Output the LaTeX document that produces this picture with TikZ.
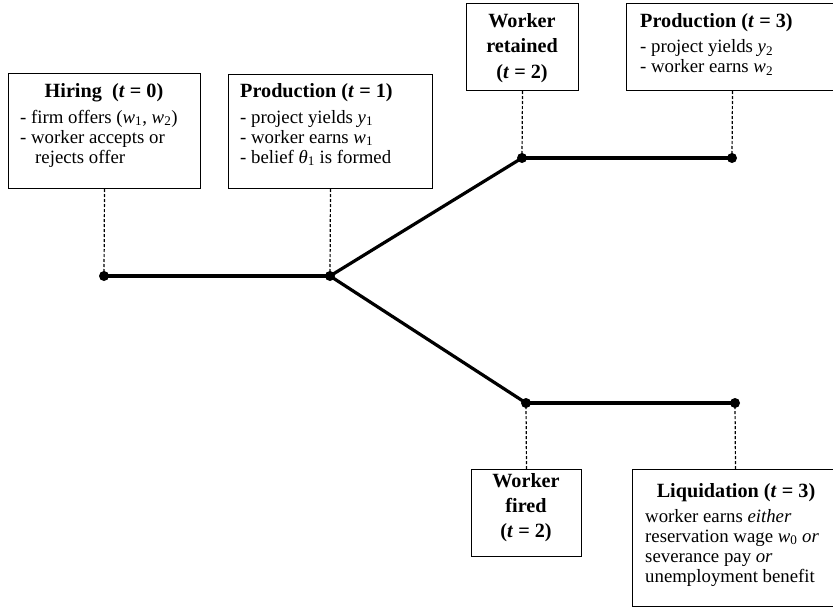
\documentclass[tikz,border=0pt]{standalone}
\usepackage{fontspec}
\setmainfont{Liberation Serif}
\newcommand\tv{\textit{t}}
\newcommand\wsub[2]{\textit{#1}\textsubscript{#2}}
\begin{document}
\begin{tikzpicture}[x=1pt,y=-1pt,
  box/.style={draw, line width=1pt, anchor=north west, inner sep=0},
  ttl/.style={inner sep=0, font=\fontsize{20.2}{25}\selectfont\bfseries, anchor=base},
  ttlw/.style={ttl, anchor=base west},
  ln/.style={inner sep=0, font=\fontsize{18.8}{20}\selectfont, anchor=base west},
  tl/.style={line width=3.2pt},
  dsh/.style={line width=1.2pt, dash pattern=on 3pt off 2pt},
  dot/.style={circle, fill, inner sep=0, minimum size=10pt}]
\useasboundingbox (0,0) rectangle (833,610);
\clip (0,0) rectangle (833,610);
% boxes
\node[box, minimum width=192pt, minimum height=115pt] (hire) at (8,73) {};
\node[box, minimum width=204pt, minimum height=114pt] (prod1) at (228,74) {};
\node[box, minimum width=112pt, minimum height=87pt] (ret) at (466,3) {};
\node[box, minimum width=212pt, minimum height=87pt] (prod3) at (626,3) {};
\node[box, minimum width=110pt, minimum height=87pt] (fired) at (471,469) {};
\node[box, minimum width=206pt, minimum height=137pt] (liq) at (632,469) {};
% event points
\coordinate (A) at (104,276);
\coordinate (B) at (330,276);
\coordinate (C) at (522,158);
\coordinate (D) at (732,158);
\coordinate (E) at (526,403);
\coordinate (F) at (735,403);
% dashed links
\draw[dsh] (hire.south) -- (A);
\draw[dsh] (prod1.south) -- (B);
\draw[dsh] (ret.south) -- (C);
\draw[dsh] (prod3.south) -- (D);
\draw[dsh] (fired.north) -- (E);
\draw[dsh] (liq.north) -- (F);
% timeline
\draw[tl] (A) -- (B);
\draw[tl] (B) -- (C);
\draw[tl] (C) -- (D);
\draw[tl] (B) -- (E);
\draw[tl] (E) -- (F);
\foreach \p in {A,B,C,D,E,F} \node[dot] (d\p) at (\p) {};
% texts
\node[ttl] (hireT) at (104,98) {Hiring\ \ (\tv{} = 0)};
\node[ln] (hire1) at (20,123) {- firm offers (\wsub{w}{1}, \wsub{w}{2})};
\node[ln] (hire2) at (20,143) {- worker accepts or};
\node[ln] (hire3) at (35,163) {rejects offer};
\node[ttlw] (prod1T) at (240,98) {Production (\tv{} = 1)};
\node[ln] (prod11) at (240,123) {- project yields \wsub{y}{1}};
\node[ln] (prod12) at (240,143) {- worker earns \wsub{w}{1}};
\node[ln] (prod13) at (240,163) {- belief \wsub{θ}{1} is formed};
\node[ttl] (ret1) at (522,28) {Worker};
\node[ttl] (ret2) at (522,53) {retained};
\node[ttl] (ret3) at (522,78) {(\tv{} = 2)};
\node[ttlw] (prod3T) at (640,28) {Production (\tv{} = 3)};
\node[ln] (prod31) at (640,53) {- project yields \wsub{y}{2}};
\node[ln] (prod32) at (640,73) {- worker earns \wsub{w}{2}};
\node[ttl] (fired1) at (526,487) {Worker};
\node[ttl] (fired2) at (526,512) {fired};
\node[ttl] (fired3) at (526,537) {(\tv{} = 2)};
\node[ttl] (liqT) at (736,497) {Liquidation (\tv{} = 3)};
\node[ln] (liq1) at (645,522) {worker earns \textit{either}};
\node[ln] (liq2) at (645,542) {reservation wage \wsub{w}{0} \textit{or}};
\node[ln] (liq3) at (645,562) {severance pay \textit{or}};
\node[ln] (liq4) at (645,582) {unemployment benefit};
\end{tikzpicture}
\end{document}
